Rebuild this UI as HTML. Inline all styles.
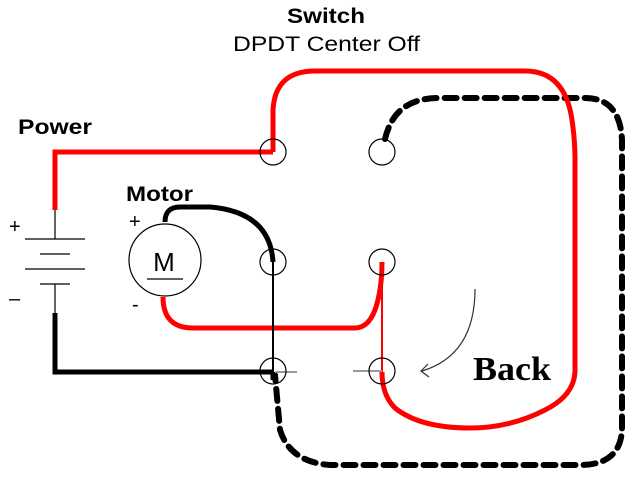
<!DOCTYPE html>
<html><head><meta charset="utf-8"><style>
html,body{margin:0;padding:0;background:#fff;width:640px;height:480px;overflow:hidden}
</style></head><body>
<svg width="640" height="480" xmlns="http://www.w3.org/2000/svg">
<path d="M385,139 C392,110 410,98 440,98 L585,98 Q620,98 622,140 L622,430 Q620,465 580,465 L330,465 Q290,462 280,430 L275,375" fill="none" stroke="#000" stroke-width="6" stroke-dasharray="12,8" stroke-linecap="round"/>
<path d="M273,152 L273,110 Q275,71 315,71 L525,71 Q565,71 572,120 Q575,140 575,160 L575,370 Q575,395 545,410 Q510,428 470,428 Q420,428 395,408 Q382,395 382,372" fill="none" stroke="#f00" stroke-width="5"/>
<path d="M273,152 L55,152 L55,210" fill="none" stroke="#f00" stroke-width="5"/>
<line x1="382" y1="262" x2="382" y2="372" stroke="#f00" stroke-width="2"/>
<path d="M163,297 Q163,328 193,328 L355,328 Q368,328 375,310 Q382,290 382,262" fill="none" stroke="#f00" stroke-width="5"/>
<path d="M55,313 L55,372 L273,372" fill="none" stroke="#000" stroke-width="5"/>
<path d="M165,222 Q165,207 180,207 L210,207 Q270,212 273,262" fill="none" stroke="#000" stroke-width="5"/>
<line x1="273" y1="262" x2="273" y2="372" stroke="#000" stroke-width="2"/>
<line x1="273" y1="372" x2="273" y2="380" stroke="#000" stroke-width="5"/>
<line x1="55" y1="210" x2="55" y2="239" stroke="#000" stroke-width="1.2"/>
<line x1="25" y1="239" x2="85" y2="239" stroke="#000" stroke-width="1.2"/>
<line x1="40" y1="254" x2="70" y2="254" stroke="#000" stroke-width="1.2"/>
<line x1="25" y1="269" x2="85" y2="269" stroke="#000" stroke-width="1.2"/>
<line x1="40" y1="284" x2="70" y2="284" stroke="#000" stroke-width="1.2"/>
<line x1="55" y1="284" x2="55" y2="313" stroke="#000" stroke-width="1.2"/>
<circle cx="165" cy="260" r="36" fill="#fff" stroke="#000" stroke-width="1.2"/>
<line x1="147" y1="279" x2="183" y2="279" stroke="#000" stroke-width="1.2"/>
<line x1="275" y1="372" x2="297" y2="372" stroke="#999" stroke-width="2"/>
<line x1="353" y1="371" x2="382" y2="371" stroke="#999" stroke-width="2"/>
<g fill="none" stroke="#000" stroke-width="1.2">
<circle cx="273" cy="152" r="13"/><circle cx="382" cy="152" r="13"/>
<circle cx="273" cy="262" r="13"/><circle cx="382" cy="262" r="13"/>
<circle cx="273" cy="371" r="13"/><circle cx="382" cy="371" r="13"/>
</g>
<path d="M475,289 Q475,355 422,371" fill="none" stroke="#333" stroke-width="1.2"/>
<path d="M428,364 L421,371 L429,377" fill="none" stroke="#333" stroke-width="1.2"/>
<g font-family="Liberation Sans, sans-serif" fill="#000">
<text x="287" y="23" font-size="21" font-weight="bold" textLength="78" lengthAdjust="spacingAndGlyphs">Switch</text>
<text x="233" y="51" font-size="21" textLength="187" lengthAdjust="spacingAndGlyphs">DPDT Center Off</text>
<text x="18" y="134" font-size="21" font-weight="bold" textLength="74" lengthAdjust="spacingAndGlyphs">Power</text>
<text x="126" y="201" font-size="21" font-weight="bold" textLength="67" lengthAdjust="spacingAndGlyphs">Motor</text>
<text x="129" y="228" font-size="20">+</text>
<text x="132" y="311" font-size="20">-</text>
<text x="9" y="233" font-size="20">+</text>
<text x="9" y="305" font-size="20">–</text>
<text x="164" y="271" font-size="26" text-anchor="middle">M</text>
</g>
<text x="473" y="380" font-family="Liberation Serif, serif" font-size="34" font-weight="bold" textLength="78" lengthAdjust="spacingAndGlyphs">Back</text>
</svg>
</body></html>
